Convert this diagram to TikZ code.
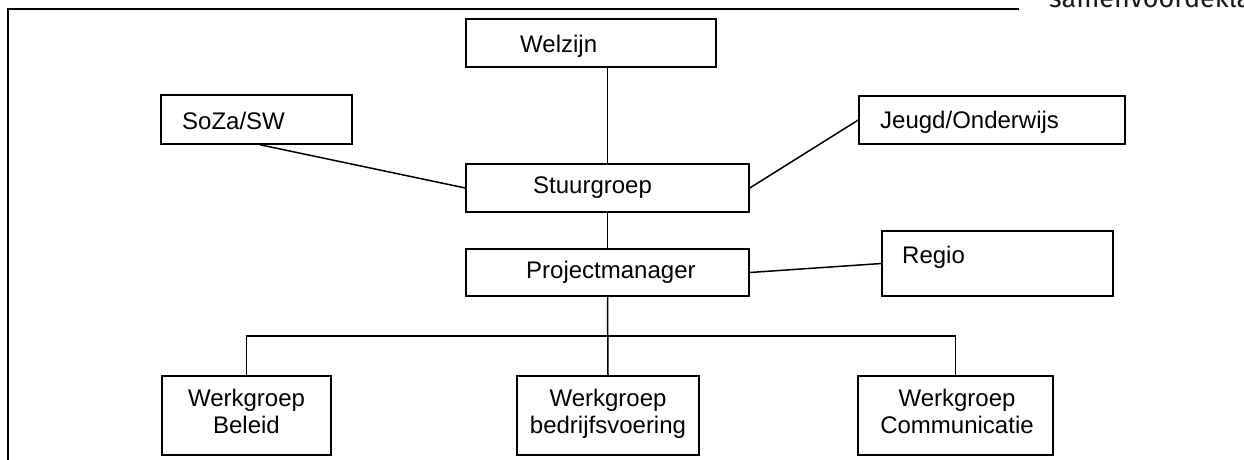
\documentclass[tikz,border=0pt]{standalone}
\usepackage{fontspec}
\setmainfont{Liberation Sans}
\newfontfamily\firafont{Fira Sans}
\begin{document}
\begin{tikzpicture}[x=1pt,y=-1pt,
  box/.style={draw, line width=1.5pt, inner sep=0pt, fill=white},
  lbl/.style={inner sep=0pt, font=\fontsize{24}{27}\selectfont},
  conn/.style={line width=1.5pt},
  frameline/.style={line width=2.2pt}]
\useasboundingbox (0,0) rectangle (1244,459);
\clip (0,0) rectangle (1244,459);
\fill[white] (0,0) rectangle (1244,459);

% frame and header text
\coordinate (fbl) at (8,470);
\coordinate (ftl) at (8,9);
\coordinate (ftr) at (1019,9);
\draw[frameline] (fbl) -- (ftl) -- (ftr);
\node[anchor=base west, inner sep=0pt, font=\firafont\fontsize{27}{30}\selectfont, text=black!90] (hdr) at (1049,7.5) {samenvoordekla};

% boxes
\node[box, minimum width=250pt, minimum height=48pt] (welzijn) at (591,43) {};
\node[box, minimum width=191pt, minimum height=49pt] (soza) at (256.5,119.5) {};
\node[box, minimum width=266pt, minimum height=48pt] (jeugd) at (992,120) {};
\node[box, minimum width=283pt, minimum height=48pt] (stuur) at (607.5,188) {};
\node[box, minimum width=283pt, minimum height=47pt] (pm) at (607.5,272.5) {};
\node[box, minimum width=231pt, minimum height=65pt] (regio) at (997.5,263.5) {};
\node[box, minimum width=169pt, minimum height=79pt] (beleid) at (246.5,415.5) {};
\node[box, minimum width=182pt, minimum height=79pt] (bedrijf) at (608,415.5) {};
\node[box, minimum width=195pt, minimum height=79pt] (comm) at (955.5,415.5) {};

% texts
\node[lbl, anchor=base west] (tw) at (520,52) {Welzijn};
\node[lbl, anchor=base west] (ts) at (182,129) {SoZa/SW};
\node[lbl, anchor=base west] (tj) at (880,128) {Jeugd/Onderwijs};
\node[lbl, anchor=base west] (tst) at (533,193) {Stuurgroep};
\node[lbl, anchor=base west] (tpm) at (526,278) {Projectmanager};
\node[lbl, anchor=base west] (tr) at (902,263) {Regio};
\node[lbl, anchor=base] (tb1) at (246.5,406) {Werkgroep};
\node[lbl, anchor=base] (tb2) at (246.5,433) {Beleid};
\node[lbl, anchor=base] (tf1) at (608,406) {Werkgroep};
\node[lbl, anchor=base] (tf2) at (608,433) {bedrijfsvoering};
\node[lbl, anchor=base] (tc1) at (957,406) {Werkgroep};
\node[lbl, anchor=base] (tc2) at (957,433) {Communicatie};

% connectors
\draw[conn] (stuur.north |- welzijn.south) -- (stuur.north);
\draw[conn] (stuur.south) -- (pm.north);
\draw[conn] (pm.south) -- (bedrijf.north);
\coordinate (bus) at (608,336);
\draw[conn] (beleid.north) |- (bus) -| (comm.north);
\draw[conn] ([xshift=3.5pt]soza.south) -- (stuur.west);
\draw[conn] (stuur.east) -- (jeugd.west);
\draw[conn] (pm.east) -- (regio.west);
\end{tikzpicture}
\end{document}
